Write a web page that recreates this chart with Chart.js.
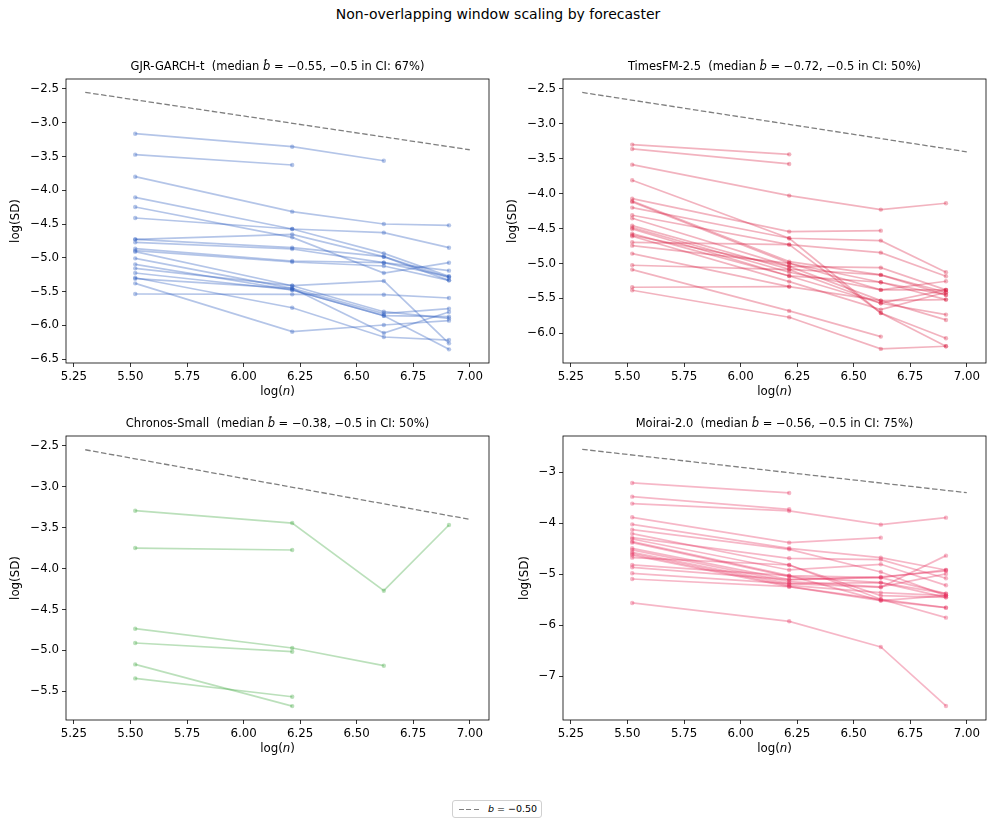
<!DOCTYPE html>
<html>
<head>
<meta charset="utf-8">
<script src="https://cdn.jsdelivr.net/npm/chart.js@4.4.1/dist/chart.umd.min.js"></script>
<style>
body { margin: 0; background: #fff; font-family: "DejaVu Sans", sans-serif; }
#fig { position: relative; width: 996px; height: 828px; overflow: hidden; }
#suptitle { position: absolute; top: 6px; left: 0; width: 996px; text-align: center; font-size: 14px; color: #000; }
#fig canvas { position: absolute; }
#legend { position: absolute; left: 452px; top: 800px; width: 90px; height: 18px; border: 1px solid #d0d0d0; border-radius: 3px; box-sizing: border-box; font-size: 9.5px; }
#legend .dash { position: absolute; left: 6px; top: 8px; width: 22px; height: 1.3px; background: repeating-linear-gradient(to right, #808080 0 5px, transparent 5px 7.5px); }
#legend .txt { position: absolute; left: 35px; top: 2px; white-space: nowrap; }
</style>
</head>
<body>
<div id="fig">
  <div id="suptitle">Non-overlapping window scaling by forecaster</div>
  <canvas id="c0" width="498" height="340" style="left:0px;top:58px"></canvas>
  <canvas id="c1" width="498" height="340" style="left:497px;top:58px"></canvas>
  <canvas id="c2" width="498" height="340" style="left:0px;top:415px"></canvas>
  <canvas id="c3" width="498" height="340" style="left:497px;top:415px"></canvas>
  <div id="legend"><div class="dash"></div><div class="txt"><i>b</i> = −0.50</div></div>
</div>
<script>
// log(n) for n = 250, 500, 750, 1000
const logN = [5.521, 6.215, 6.620, 6.908];
const xTicks = [5.25, 5.50, 5.75, 6.00, 6.25, 6.50, 6.75, 7.00];

// reference slope b = -0.5
const refX = [5.3, 7.0];
const refY = [-2.55, -3.40];

const forecasters = ['GJR-GARCH-t', 'TimesFM-2.5', 'Chronos-Small', 'Moirai-2.0'];
const medianB = [-0.55, -0.72, -0.38, -0.56];
const ciShare = [67, 50, 50, 75];

// log(SD) per asset, one value per window size (shorter runs stop early)
const garchRuns = [
  [-3.162, -3.355, -3.563],
  [-3.473, -3.626],
  [-3.799, -4.317, -4.500, -4.520],
  [-4.105, -4.574, -4.935, -5.275],
  [-4.248, -4.698, -5.226, -5.073],
  [-4.411, -4.574, -4.628, -4.851],
  [-4.727, -4.653, -4.984, -5.295],
  [-4.727, -4.851, -4.984, -5.335],
  [-4.772, -4.870, -5.073, -5.191],
  [-4.865, -5.048, -5.073, -5.280],
  [-4.895, -5.063, -5.122, -5.335],
  [-4.910, -5.414, -5.799, -5.898],
  [-5.009, -5.453, -5.828, -5.754],
  [-5.098, -5.478, -5.858, -5.873],
  [-5.157, -5.414, -5.344, -6.268],
  [-5.226, -5.478, -5.858, -6.357],
  [-5.296, -5.740, -6.174, -6.219],
  [-5.310, -5.453, -6.115, -5.804],
  [-5.379, -6.095, -5.996, -5.932],
  [-5.537, -5.542, -5.547, -5.596]
];

const timesfmRuns = [
  [-3.297, -3.436],
  [-3.359, -3.574],
  [-3.584, -4.027, -4.228, -4.137],
  [-3.808, -4.638, -5.708, -6.070],
  [-4.070, -4.543, -4.529],
  [-4.104, -4.973, -5.163, -5.412],
  [-4.118, -4.997, -5.268, -5.450],
  [-4.199, -4.638, -4.672, -5.125],
  [-4.309, -4.729, -4.844, -5.183],
  [-4.352, -5.041, -5.060, -5.378],
  [-4.457, -5.082, -5.163, -5.450],
  [-4.486, -5.125, -5.378, -5.378],
  [-4.505, -5.178, -5.268, -5.517],
  [-4.572, -5.178, -5.569, -5.732],
  [-4.596, -5.041, -5.531, -5.808],
  [-4.610, -5.259, -5.660, -5.412],
  [-4.696, -4.729, -5.708, -6.185],
  [-4.744, -4.997, -5.378, -5.254],
  [-4.858, -5.331, -5.531, -5.517],
  [-5.025, -5.087, -5.569, -5.378],
  [-5.087, -5.679, -6.047],
  [-5.340, -5.331],
  [-5.383, -5.770, -6.223, -6.185]
];

const chronosRuns = [
  [-3.294, -3.445, -4.271, -3.469],
  [-3.750, -3.774],
  [-4.735, -4.971, -5.187],
  [-4.910, -5.016],
  [-5.171, -5.680],
  [-5.342, -5.566]
];

const moiraiRuns = [
  [-3.209, -3.405],
  [-3.477, -3.725],
  [-3.614, -3.758, -4.026, -3.889],
  [-3.882, -4.379, -4.281],
  [-4.020, -4.490, -4.673, -4.915],
  [-4.124, -4.510, -4.954, -5.418],
  [-4.203, -4.817, -5.490, -5.654],
  [-4.281, -4.686, -4.712, -5.078],
  [-4.307, -4.915, -4.804, -5.216],
  [-4.359, -5.026, -5.065, -5.379],
  [-4.379, -5.046, -5.163, -5.451],
  [-4.490, -5.105, -5.052, -4.935],
  [-4.523, -5.144, -5.248, -4.993],
  [-4.569, -5.183, -5.255, -4.634],
  [-4.601, -5.216, -5.359, -5.418],
  [-4.627, -5.242, -5.490, -5.850],
  [-4.673, -4.817, -5.418, -5.451],
  [-4.817, -5.026, -5.516, -5.418],
  [-4.863, -5.105, -5.065, -4.915],
  [-4.980, -5.183, -5.163, -5.379],
  [-5.092, -5.242, -5.516, -5.654],
  [-5.562, -5.922, -6.425, -7.582]
];

const yTicksGarch = [-2.5, -3.0, -3.5, -4.0, -4.5, -5.0, -5.5, -6.0, -6.5];
const yTicksTimesfm = [-2.5, -3.0, -3.5, -4.0, -4.5, -5.0, -5.5, -6.0];
const yTicksChronos = [-2.5, -3.0, -3.5, -4.0, -4.5, -5.0, -5.5];
const yTicksMoirai = [-3, -4, -5, -6, -7];

const FONT = '"DejaVu Sans", sans-serif';
const TICK_SIZE = 11.8;

const panels = [
  { runs: garchRuns, color: 'rgba(40, 90, 190, 0.35)', yMin: -6.559, yMax: -2.352, yTicks: yTicksGarch, dec: 1 },
  { runs: timesfmRuns, color: 'rgba(215, 25, 60, 0.33)', yMin: -6.425, yMax: -2.357, yTicks: yTicksTimesfm, dec: 1 },
  { runs: chronosRuns, color: 'rgba(50, 160, 50, 0.33)', yMin: -5.85, yMax: -2.382, yTicks: yTicksChronos, dec: 1 },
  { runs: moiraiRuns, color: 'rgba(230, 50, 95, 0.35)', yMin: -7.857, yMax: -2.288, yTicks: yTicksMoirai, dec: 0 }
];

function fmt(v, dec) {
  return (v < 0 ? '\u2212' : '') + Math.abs(v).toFixed(dec);
}

function drawParts(ctx, parts, cx, cy, size) {
  let total = 0;
  parts.forEach(p => {
    ctx.font = (p[1] ? 'italic ' : '') + size + 'px ' + FONT;
    total += ctx.measureText(p[0]).width;
  });
  let x = cx - total / 2;
  ctx.textBaseline = 'middle';
  ctx.textAlign = 'left';
  parts.forEach(p => {
    ctx.font = (p[1] ? 'italic ' : '') + size + 'px ' + FONT;
    ctx.fillText(p[0], x, cy);
    x += ctx.measureText(p[0]).width;
  });
}

const panelDecor = {
  id: 'panelDecor',
  afterDraw(chart, args, opts) {
    const ctx = chart.ctx;
    const a = chart.chartArea;
    ctx.save();
    ctx.strokeStyle = '#000';
    ctx.lineWidth = 0.8;
    ctx.strokeRect(a.left, a.top, a.right - a.left, a.bottom - a.top);
    ctx.fillStyle = '#000';
    const cx = (a.left + a.right) / 2;
    drawParts(ctx, opts.title, cx, a.top - 12, 11.5);
    drawParts(ctx, [['log(', false], ['n', true], [')', false]], cx, a.bottom + 29, TICK_SIZE);
    // y label sits left of the widest tick label
    ctx.font = TICK_SIZE + 'px ' + FONT;
    let w = 0;
    opts.yTicks.forEach(v => { w = Math.max(w, ctx.measureText(fmt(v, opts.dec)).width); });
    const lx = a.left - 7 - w - 14;
    ctx.translate(lx, (a.top + a.bottom) / 2);
    ctx.rotate(-Math.PI / 2);
    ctx.textAlign = 'center';
    ctx.textBaseline = 'middle';
    ctx.fillText('log(SD)', 0, 0);
    ctx.restore();
  }
};

panels.forEach((p, k) => {
  const datasets = [{
    data: refX.map((x, i) => ({ x: x, y: refY[i] })),
    borderColor: 'rgba(0, 0, 0, 0.5)',
    borderDash: [5.5, 2.5],
    borderWidth: 1.3,
    pointRadius: 0
  }];
  p.runs.forEach(r => {
    datasets.push({
      data: r.map((y, i) => ({ x: logN[i], y: y })),
      borderColor: p.color,
      backgroundColor: p.color,
      borderWidth: 1.7,
      pointRadius: 2.2,
      pointBorderWidth: 0,
      pointHoverRadius: 2.2
    });
  });

  const title = [
    [forecasters[k] + '  (median ', false],
    ['b\u0302', true],
    [' = ' + fmt(medianB[k], 2) + ', \u22120.5 in CI: ' + ciShare[k] + '%)', false]
  ];

  new Chart(document.getElementById('c' + k), {
    type: 'line',
    data: { datasets: datasets },
    options: {
      responsive: false,
      animation: false,
      events: [],
      layout: { padding: { left: 0, right: 9, top: 21, bottom: 0 } },
      plugins: {
        legend: { display: false },
        tooltip: { enabled: false },
        panelDecor: { title: title, yTicks: p.yTicks, dec: p.dec }
      },
      scales: {
        x: {
          type: 'linear',
          min: 5.215,
          max: 7.085,
          afterBuildTicks: s => { s.ticks = xTicks.map(v => ({ value: v })); },
          afterFit: s => { s.height = 35; },
          ticks: {
            callback: v => v.toFixed(2),
            font: { family: FONT, size: TICK_SIZE },
            color: '#000',
            padding: 3,
            maxRotation: 0,
            autoSkip: false
          },
          grid: { drawOnChartArea: false, tickLength: 4, color: '#000', lineWidth: 0.8 },
          border: { display: false }
        },
        y: {
          type: 'linear',
          min: p.yMin,
          max: p.yMax,
          afterBuildTicks: s => { s.ticks = p.yTicks.map(v => ({ value: v })); },
          afterFit: s => { s.width = 66; },
          ticks: {
            callback: v => fmt(v, p.dec),
            font: { family: FONT, size: TICK_SIZE },
            color: '#000',
            padding: 3,
            autoSkip: false
          },
          grid: { drawOnChartArea: false, tickLength: 4, color: '#000', lineWidth: 0.8 },
          border: { display: false }
        }
      }
    },
    plugins: [panelDecor]
  });
});
</script>
</body>
</html>
